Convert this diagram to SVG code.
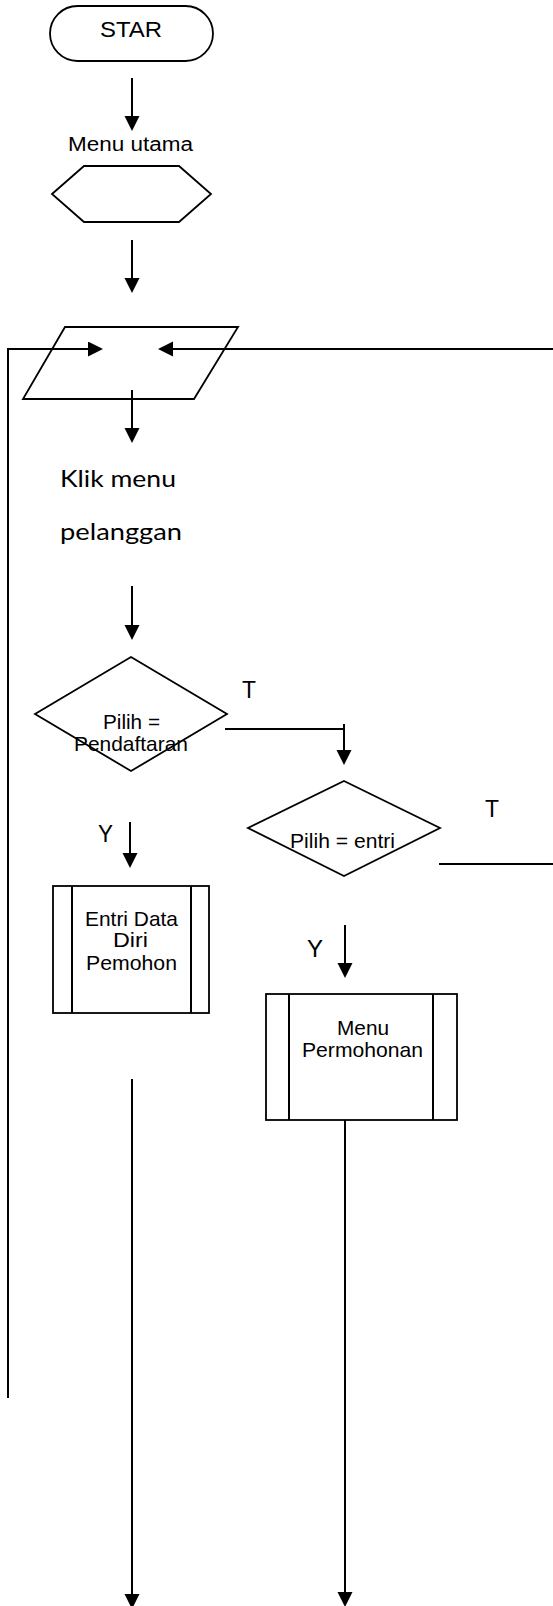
<svg xmlns="http://www.w3.org/2000/svg" width="553" height="1606" viewBox="0 0 553 1606">
<style>
.shape{fill:#fff;stroke:#000;stroke-width:1.8}
.edge{fill:none;stroke:#000;stroke-width:2}
.t{font-family:"Liberation Sans",Arial,sans-serif;fill:#000}
.c{font-family:Lato,"Liberation Sans",sans-serif;fill:#000}
</style>
<defs>
<marker id="ah" markerUnits="userSpaceOnUse" markerWidth="16" markerHeight="16" refX="5" refY="7.5" orient="auto">
<path d="M0,0 L15,7.5 L0,15 z" fill="#000"/>
</marker>
</defs>
<rect width="553" height="1606" fill="#fff"/>
<g id="start">
<rect class="shape" x="50" y="6" width="163" height="55" rx="27.5"/>
<text class="t" x="100" y="37" font-size="22" textLength="62" lengthAdjust="spacingAndGlyphs">STAR</text>
</g>
<g id="menu-utama">
<text class="t" x="68" y="150.5" font-size="20" textLength="125" lengthAdjust="spacingAndGlyphs">Menu utama</text>
<polygon class="shape" points="52,194 84,166 179,166 211,194 179,222 84,222"/>
</g>
<g id="input">
<polygon class="shape" points="65,327 238,327 194,399 23,399"/>
</g>
<g id="klik-menu">
<text class="c" x="60" y="487" font-size="24" textLength="116" lengthAdjust="spacingAndGlyphs">Klik menu</text>
<text class="c" x="60" y="540" font-size="24" textLength="122" lengthAdjust="spacingAndGlyphs">pelanggan</text>
</g>
<g id="decision-pendaftaran">
<polygon class="shape" points="131,657 227,714 131,771 35,714"/>
<text class="t" x="103" y="729" font-size="21" textLength="57" lengthAdjust="spacingAndGlyphs">Pilih =</text>
<text class="t" x="74" y="751" font-size="21" textLength="114" lengthAdjust="spacingAndGlyphs">Pendaftaran</text>
</g>
<g id="entri-data">
<rect class="shape" x="53" y="886" width="156" height="127"/>
<line class="edge" x1="72" y1="886" x2="72" y2="1013" stroke-width="1.8"/>
<line class="edge" x1="191" y1="886" x2="191" y2="1013" stroke-width="1.8"/>
<text class="t" x="85" y="926" font-size="21" textLength="93" lengthAdjust="spacingAndGlyphs">Entri Data</text>
<text class="t" x="113" y="947" font-size="21" textLength="35" lengthAdjust="spacingAndGlyphs">Diri</text>
<text class="t" x="86" y="970" font-size="21" textLength="91" lengthAdjust="spacingAndGlyphs">Pemohon</text>
</g>
<g id="decision-entri">
<polygon class="shape" points="344,781 440,828 344,876 248,828"/>
<text class="t" x="290" y="848" font-size="21" textLength="105" lengthAdjust="spacingAndGlyphs">Pilih = entri</text>
</g>
<g id="menu-permohonan">
<rect class="shape" x="266" y="994" width="191" height="126"/>
<line class="edge" x1="289" y1="994" x2="289" y2="1120" stroke-width="1.8"/>
<line class="edge" x1="433" y1="994" x2="433" y2="1120" stroke-width="1.8"/>
<text class="t" x="337" y="1035" font-size="21" textLength="52" lengthAdjust="spacingAndGlyphs">Menu</text>
<text class="t" x="302" y="1057" font-size="21" textLength="121" lengthAdjust="spacingAndGlyphs">Permohonan</text>
</g>
<g id="labels">
<text class="t" x="242" y="698" font-size="24" textLength="14" lengthAdjust="spacingAndGlyphs">T</text>
<text class="t" x="98" y="842" font-size="24" textLength="15" lengthAdjust="spacingAndGlyphs">Y</text>
<text class="t" x="485" y="817" font-size="24" textLength="14" lengthAdjust="spacingAndGlyphs">T</text>
<text class="t" x="307" y="957" font-size="24" textLength="16" lengthAdjust="spacingAndGlyphs">Y</text>
</g>
<g id="connectors">
<line class="edge" x1="132" y1="78" x2="132" y2="121" marker-end="url(#ah)"/>
<line class="edge" x1="132" y1="240" x2="132" y2="283" marker-end="url(#ah)"/>
<polyline class="edge" points="8,1398 8,349 93,349" marker-end="url(#ah)"/>
<line class="edge" x1="553" y1="349" x2="168" y2="349" marker-end="url(#ah)"/>
<line class="edge" x1="132" y1="390" x2="132" y2="433" marker-end="url(#ah)"/>
<line class="edge" x1="132" y1="586" x2="132" y2="630" marker-end="url(#ah)"/>
<polyline class="edge" points="225,729 344,729 344,755" marker-end="url(#ah)"/>
<line class="edge" x1="344" y1="724" x2="344" y2="729"/>
<line class="edge" x1="130" y1="822" x2="130" y2="858" marker-end="url(#ah)"/>
<line class="edge" x1="439" y1="864" x2="553" y2="864"/>
<line class="edge" x1="345" y1="925" x2="345" y2="968" marker-end="url(#ah)"/>
<line class="edge" x1="345" y1="1120" x2="345" y2="1597" marker-end="url(#ah)"/>
<line class="edge" x1="132" y1="1079" x2="132" y2="1599" marker-end="url(#ah)"/>
</g>
</svg>
